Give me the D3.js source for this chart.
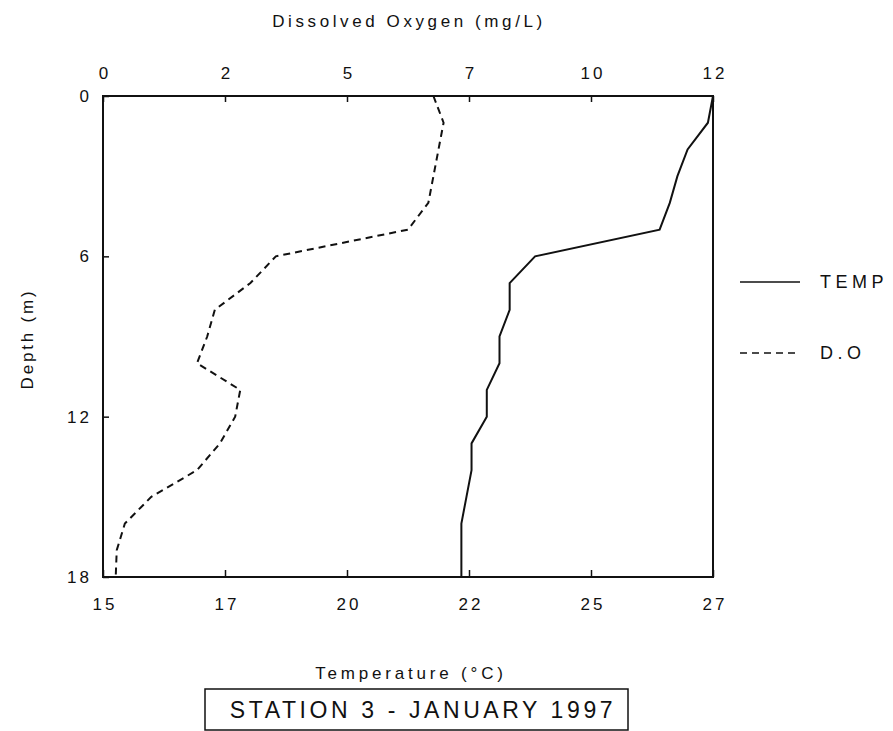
<!doctype html>
<html lang="en">
<head>
    <meta charset="UTF-8">
    <title>Station 3 - January 1997</title>
    <script src="https://cdnjs.cloudflare.com/ajax/libs/d3/7.8.5/d3.min.js"></script>
    <style>
        body { margin: 0; background: #fff; }
        text { font-family: "Liberation Sans", Arial, sans-serif; fill: #111; }
    </style>
</head>
<body>
<svg id="chart" width="893" height="731"></svg>

<script>

    // depth profile (1 m steps)
    var depths = [0, 1, 2, 3, 4, 5, 6, 7, 8, 9, 10, 11, 12, 13, 14, 15, 16, 17, 18];

    var tempValues = [27.0, 26.9, 26.5, 26.3, 26.15, 25.95, 23.5, 23.0, 23.0, 22.8, 22.8,
        22.55, 22.55, 22.25, 22.25, 22.15, 22.05, 22.05, 22.05];

    var doValues = [6.5, 6.7, 6.6, 6.5, 6.4, 6.0, 3.4, 2.9, 2.2, 2.05, 1.85,
        2.7, 2.6, 2.3, 1.85, 0.95, 0.43, 0.27, 0.25];

    var doTicks = [0, 2.4, 4.8, 7.2, 9.6, 12];
    var tempTicks = [15, 17.4, 19.8, 22.2, 24.6, 27];
    var depthTicks = [0, 6, 12, 18];

    var legendItems = ['TEMP', 'D.O'];

    // plot box (note: "top" is taken by window.top)
    var plotL = 103, plotR = 713, plotT = 96, plotB = 577;

    var svg = d3.select('#chart');

    var xDO = d3.scaleLinear().domain([0, 12]).range([plotL, plotR]);
    var xT = d3.scaleLinear().domain([15, 27]).range([plotL, plotR]);
    var y = d3.scaleLinear().domain([0, 18]).range([plotT, plotB]);

    // axes, ticks pointing inward
    var gTop = svg.append('g')
            .attr('transform', 'translate(0,' + plotT + ')')
            .call(d3.axisTop(xDO).tickValues(doTicks).tickSize(-6).tickPadding(17)
                    .tickFormat(function (d) { return Math.round(d); }));

    var gBottom = svg.append('g')
            .attr('transform', 'translate(0,' + plotB + ')')
            .call(d3.axisBottom(xT).tickValues(tempTicks).tickSize(-7).tickPadding(21)
                    .tickFormat(function (d) { return Math.round(d); }));

    var gLeft = svg.append('g')
            .attr('transform', 'translate(' + plotL + ',0)')
            .call(d3.axisLeft(y).tickValues(depthTicks).tickSize(-6).tickPadding(11));

    [gTop, gBottom, gLeft].forEach(function (g) {
        g.select('.domain').remove();
        g.selectAll('line').attr('stroke', '#111').attr('stroke-width', 1.5);
        g.selectAll('text')
                .attr('font-family', '"Liberation Sans", Arial, sans-serif')
                .attr('font-size', 17)
                .attr('letter-spacing', '3px')
                .attr('fill', '#111');
    });
    gTop.selectAll('text').attr('dx', 1.5);
    gBottom.selectAll('text').attr('dx', 1.5);

    // frame
    svg.append('rect')
            .attr('x', plotL)
            .attr('y', plotT)
            .attr('width', plotR - plotL)
            .attr('height', plotB - plotT)
            .attr('fill', 'none')
            .attr('stroke', '#111')
            .attr('stroke-width', 2);

    var tempLine = d3.line()
            .x(function (d, i) { return xT(tempValues[i]); })
            .y(function (d) { return y(d); });

    var doLine = d3.line()
            .x(function (d, i) { return xDO(doValues[i]); })
            .y(function (d) { return y(d); });

    svg.append('path')
            .datum(depths)
            .attr('d', tempLine)
            .attr('fill', 'none')
            .attr('stroke', '#111')
            .attr('stroke-width', 2);

    svg.append('path')
            .datum(depths)
            .attr('d', doLine)
            .attr('fill', 'none')
            .attr('stroke', '#111')
            .attr('stroke-width', 2)
            .attr('stroke-dasharray', '7,5');

    // titles
    svg.append('text')
            .attr('x', 409)
            .attr('y', 27)
            .attr('text-anchor', 'middle')
            .attr('font-size', 17)
            .attr('letter-spacing', '3.6px')
            .text('Dissolved Oxygen (mg/L)');

    svg.append('text')
            .attr('x', 411)
            .attr('y', 679)
            .attr('text-anchor', 'middle')
            .attr('font-size', 17)
            .attr('letter-spacing', '3.8px')
            .text('Temperature (°C)');

    svg.append('text')
            .attr('transform', 'translate(33,339) rotate(-90)')
            .attr('text-anchor', 'middle')
            .attr('font-size', 17)
            .attr('letter-spacing', '2.8px')
            .text('Depth (m)');

    // station box
    svg.append('rect')
            .attr('x', 205)
            .attr('y', 689)
            .attr('width', 423)
            .attr('height', 41)
            .attr('fill', 'none')
            .attr('stroke', '#111')
            .attr('stroke-width', 1.5);

    svg.append('text')
            .attr('x', 423)
            .attr('y', 718)
            .attr('text-anchor', 'middle')
            .attr('font-size', 23)
            .attr('letter-spacing', '3.6px')
            .text('STATION 3 - JANUARY 1997');

    // legend
    var legend = svg.selectAll('.legend')
            .data(legendItems)
            .enter().append('g')
            .attr('class', 'legend')
            .attr('transform', function (d, i) { return 'translate(740,' + (282 + i * 71) + ')'; });

    legend.append('line')
            .attr('x1', 0)
            .attr('x2', 60)
            .attr('stroke', '#111')
            .attr('stroke-width', 1.5)
            .attr('stroke-dasharray', function (d, i) { return i === 1 ? '7,5' : null; });

    legend.append('text')
            .attr('x', 80)
            .attr('dy', '0.35em')
            .attr('font-size', 18)
            .attr('letter-spacing', '4.5px')
            .text(function (d) { return d; });

</script>
</body>
</html>
